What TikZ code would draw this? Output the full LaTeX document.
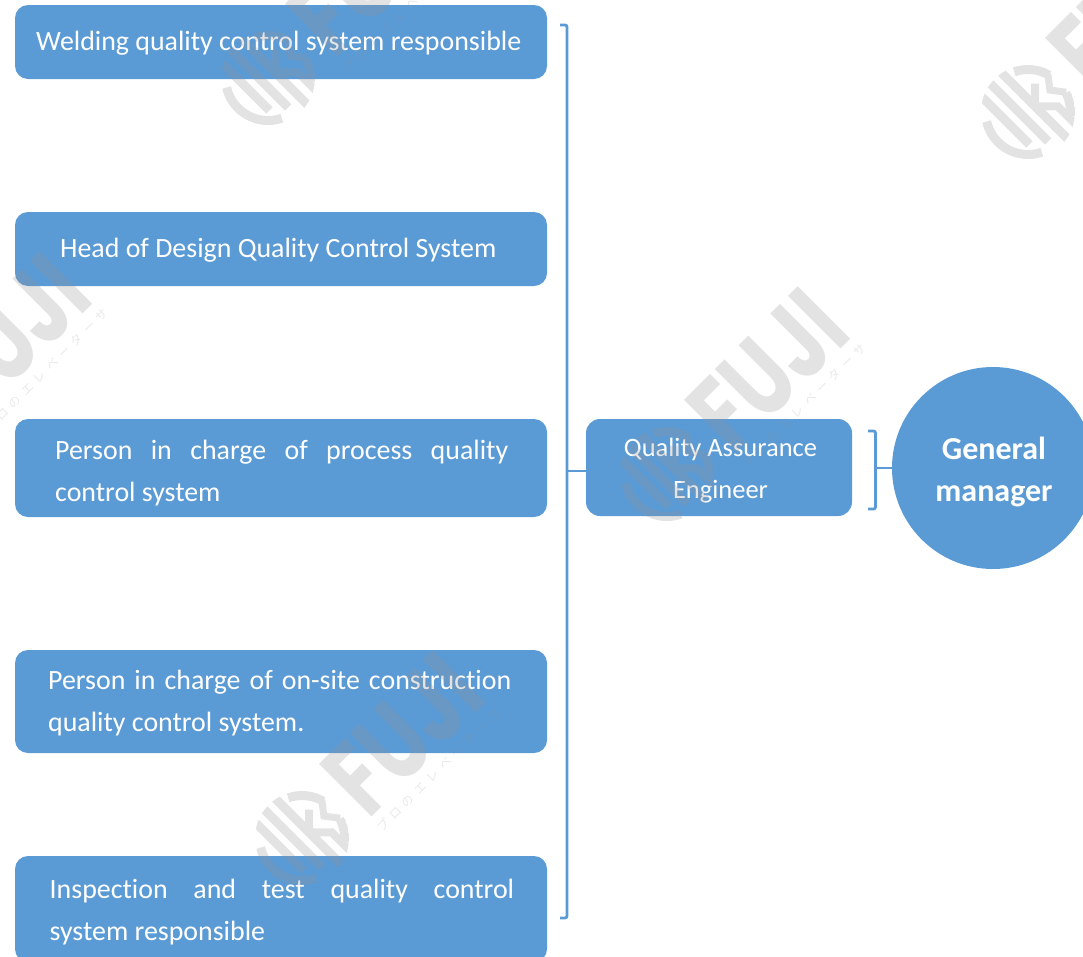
\documentclass[tikz,border=0pt]{standalone}
\usepackage{fontspec}
\setmainfont[Ligatures=NoCommon]{Carlito}
\newfontfamily\jpfont{Noto Sans CJK JP}
\newfontfamily\markfont{Poppins}
\definecolor{blockblue}{HTML}{5B9BD5}
\definecolor{markgrey}{RGB}{145,145,145}
\tikzset{
  blockbox/.style={fill=blockblue,draw=none,rounded corners=13pt,inner sep=0pt},
  blocktext/.style={text=white,inner sep=0pt,font=\fontsize{27.9}{42}\selectfont},
  lefttext/.style={blocktext,anchor=west,align=left},
  midtext/.style={blocktext,anchor=center,align=center,font=\fontsize{26.5}{42}\selectfont},
  boldtext/.style={midtext,font=\fontsize{32}{42}\selectfont\bfseries},
  bracketline/.style={draw=blockblue,line width=2.8pt,rounded corners=2pt},
  stemline/.style={draw=blockblue,line width=2.8pt},
  markstroke/.style={draw=markgrey,line cap=butt,line width=9pt},
  marktext/.style={text=markgrey,text opacity=0.25,inner sep=0pt},
}
\newcommand{\wmark}[2]{%
  \begin{scope}[shift={(#1,#2)},y=1pt,rotate=45]
    \begin{scope}[transparency group,opacity=0.25]
      \clip (0,0) circle (47pt);
      \draw[markstroke] (148:42.5) arc (148:244:42.5);
      \draw[markstroke] (-22,50) -- (-22,-24);
      \draw[markstroke] (-6.5,50) -- (-6.5,-35);
      \draw[markstroke] (9,50) -- (9,-50);
      \draw[markstroke,line width=8pt] (11,1) -- (25,15);
      \draw[markstroke,line width=8pt] (11,-3) -- (25,-17) -- (25,-50);
      \draw[markstroke] (64:42.5) arc (64:15:42.5);
      \draw[markstroke] (-18:42.5) arc (-18:-50:42.5);
      \draw[markstroke,line width=7pt] (41,13) -- (31,0) -- (41,-13);
    \end{scope}
    \node[marktext,anchor=base west,xscale=0.76,transform shape,font=\fontsize{106}{106}\markfont\bfseries] (fuji#1) at (59,-35) {FUJI};
    \node[marktext,anchor=base west,transform shape,font=\fontsize{12}{12}\jpfont,text opacity=0.2] (kana#1) at (60,-53)
      {\makebox[170pt]{プ\hfill ロ\hfill の\hfill エ\hfill レ\hfill ベ\hfill ー\hfill タ\hfill ー\hfill サ}};
  \end{scope}}
\begin{document}
\begin{tikzpicture}[x=1pt,y=-1pt]
\useasboundingbox (0,0) rectangle (1083,956);
\clip (0,0) rectangle (1083,956);
% boxes
\path[blockbox] (15,5) rectangle (547,79);
\path[blockbox] (15,212) rectangle (547,286);
\path[blockbox] (15,419) rectangle (547,517);
\path[blockbox] (15,650) rectangle (547,753);
\path[blockbox] (15,856) rectangle (547,962);
\node[blockbox,minimum width=266pt,minimum height=97pt,rounded corners=14pt] (eng) at (719,467.5) {};
\node[circle,fill=blockblue,minimum size=202pt,inner sep=0pt] (gm) at (993,468) {};
% texts
\node[lefttext] (t1) at (36,43) {Welding quality control system responsible};
\node[lefttext] (t2) at (60,250) {Head of Design Quality Control System};
\node[lefttext] (t3) at (55,473) {\makebox[453pt][s]{Person in charge of process quality}\\control system};
\node[lefttext] (t4) at (48,703) {\makebox[463pt][s]{Person in charge of on-site construction}\\quality control system.};
\node[lefttext] (t5) at (49.5,912) {\makebox[464.5pt][s]{Inspection and test quality control}\\system responsible};
\node[midtext] (t6) at (720.5,471) {Quality Assurance\\Engineer};
\node[boldtext] (t7) at (994,472) {General\\manager};
% brackets
\coordinate (bigTopEnd) at (560,25);
\coordinate (bigTop) at (567,25);
\coordinate (bigBot) at (567,918);
\coordinate (bigBotEnd) at (560,918);
\coordinate (bigMid) at (567,471);
\draw[bracketline] (bigTopEnd) -- (bigTop) -- (bigBot) -- (bigBotEnd);
\draw[stemline] (bigMid) -- (bigMid -| eng.west);
\coordinate (smallTopEnd) at (868,431);
\coordinate (smallTop) at (875.5,431);
\coordinate (smallBot) at (875.5,509);
\coordinate (smallBotEnd) at (868,509);
\coordinate (smallMid) at (875.5,468);
\draw[bracketline] (smallTopEnd) -- (smallTop) -- (smallBot) -- (smallBotEnd);
\draw[stemline] (smallMid) -- (gm.west);
% watermarks
\wmark{667}{474}
\wmark{302}{838}
\wmark{1028}{112}
\wmark{268}{78}
\wmark{-91}{439}
\end{tikzpicture}
\end{document}
